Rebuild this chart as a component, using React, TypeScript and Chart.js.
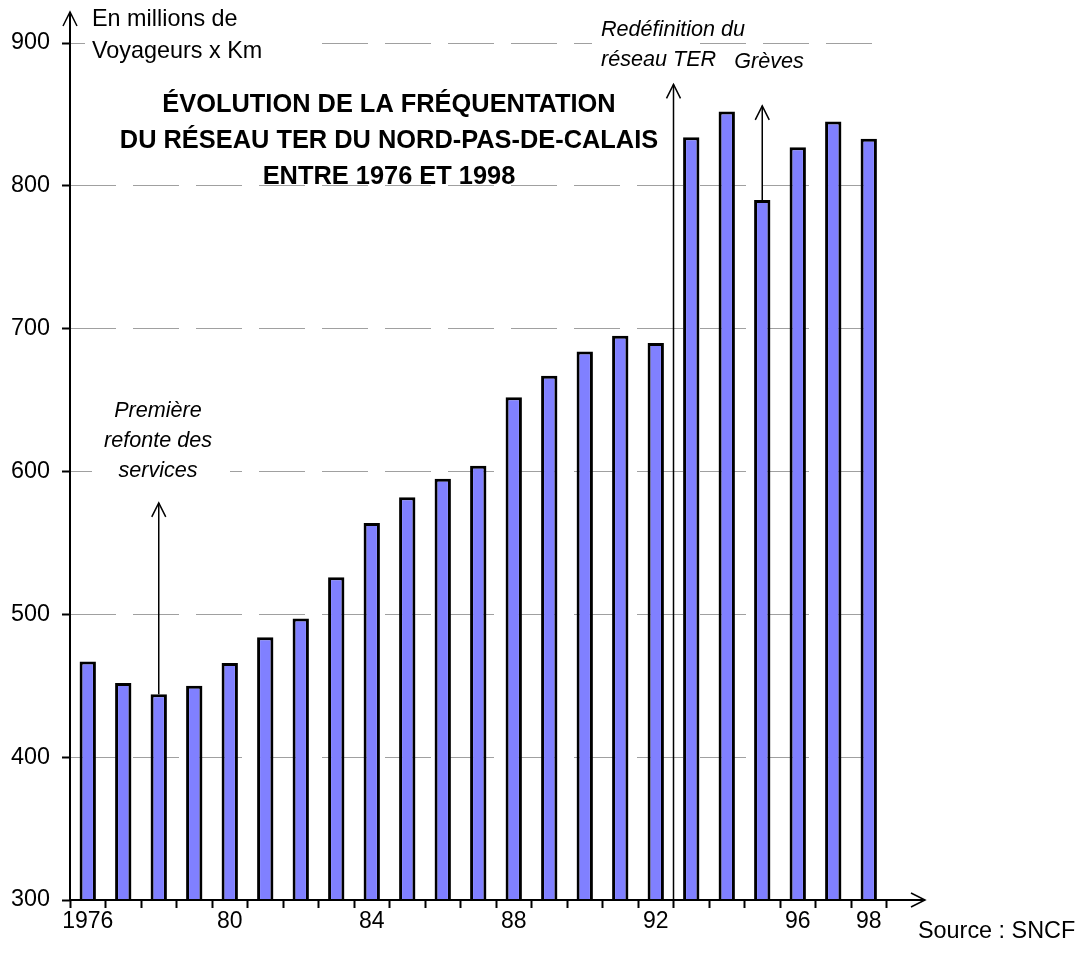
import { useEffect, useRef } from 'react';
import { Chart, registerables } from 'chart.js';

Chart.register(...registerables);

// ---- data ----
const years = ['1976','1977','1978','1979','1980','1981','1982','1983','1984','1985','1986','1987','1988','1989','1990','1991','1992','1993','1994','1995','1996','1997','1998'];
const traffic = [467, 452, 444, 450, 466, 484, 497, 526, 564, 582, 595, 604, 652, 667, 684, 695, 690, 834, 852, 790, 827, 845, 833];
const xTickLabels = ['1976','','','','80','','','','84','','','','88','','','','92','','','','96','','98'];
const yMin = 300;
const yMax = 900;
const yStep = 100;

const titleLines = ['ÉVOLUTION DE LA FRÉQUENTATION', 'DU RÉSEAU TER DU NORD-PAS-DE-CALAIS', 'ENTRE 1976 ET 1998'];
const unitLines = ['En millions de', 'Voyageurs x Km'];
const sourceText = 'Source : SNCF';

// annotation arrows (category index, from value, to value)
const arrowCats = [2, 16.5, 19];
const arrowFrom = [444, 300, 790];
const arrowTo = [578, 871, 856];
const noteFirst = ['Première', 'refonte des', 'services'];
const noteTer = ['Redéfinition du', 'réseau TER'];
const noteStrike = ['Grèves'];

const FONT = '"Liberation Sans", Arial, Helvetica, sans-serif';

function arrowHead(ctx: CanvasRenderingContext2D, x: number, y: number, dir: 'up' | 'right') {
  ctx.beginPath();
  if (dir === 'up') {
    ctx.moveTo(x - 7, y + 14);
    ctx.lineTo(x, y);
    ctx.lineTo(x + 7, y + 14);
  } else {
    ctx.moveTo(x - 14, y - 7);
    ctx.lineTo(x, y);
    ctx.lineTo(x - 14, y + 7);
  }
  ctx.stroke();
}

const decorPlugin = {
  id: 'decor',
  afterDraw(chart: any) {
    const ctx: CanvasRenderingContext2D = chart.ctx;
    const xs = chart.scales.x;
    const ys = chart.scales.y;
    const ca = chart.chartArea;
    ctx.save();

    // white text boxes hiding gridlines
    ctx.fillStyle = '#ffffff';
    const y900 = ys.getPixelForValue(900);
    const y600 = ys.getPixelForValue(600);
    ctx.fillRect(85, y900 - 3, 234, 6);
    ctx.fillRect(592, y900 - 3, 108, 6);
    ctx.fillRect(92, y600 - 3, 138, 6);

    // axes
    ctx.strokeStyle = '#000';
    ctx.lineWidth = 2;
    ctx.beginPath();
    ctx.moveTo(ca.left, ca.bottom);
    ctx.lineTo(ca.left, 12);
    ctx.stroke();
    ctx.beginPath();
    ctx.moveTo(ca.left, ca.bottom);
    ctx.lineTo(925, ca.bottom);
    ctx.stroke();
    ctx.lineWidth = 1.5;
    arrowHead(ctx, ca.left, 12, 'up');
    arrowHead(ctx, 925, ca.bottom, 'right');

    // annotation arrows
    ctx.lineWidth = 1.5;
    for (let i = 0; i < arrowCats.length; i++) {
      const x = xs.getPixelForValue(arrowCats[i]);
      const y0 = ys.getPixelForValue(arrowFrom[i]);
      const y1 = ys.getPixelForValue(arrowTo[i]);
      ctx.beginPath();
      ctx.moveTo(x, y0);
      ctx.lineTo(x, y1);
      ctx.stroke();
      arrowHead(ctx, x, y1, 'up');
    }

    // texts
    ctx.fillStyle = '#000';
    ctx.textBaseline = 'middle';
    ctx.font = `23.4px ${FONT}`;
    ctx.textAlign = 'left';
    ctx.fillText(unitLines[0], 92, 20);
    ctx.fillText(unitLines[1], 92, 52);
    ctx.fillText(sourceText, 918, 932);

    ctx.font = `bold 25.4px ${FONT}`;
    ctx.textAlign = 'center';
    const ty = [105, 141, 177];
    titleLines.forEach((t, i) => ctx.fillText(t, 389, ty[i]));

    ctx.font = `italic 21.6px ${FONT}`;
    ctx.textAlign = 'left';
    ctx.fillText(noteTer[0], 601, 30);
    ctx.fillText(noteTer[1], 601, 60);
    ctx.textAlign = 'center';
    ctx.fillText(noteStrike[0], 769, 62);
    const fy = [411, 441, 471];
    noteFirst.forEach((t, i) => ctx.fillText(t, 158, fy[i]));

    ctx.restore();
  },
};

export default function App() {
  const ref = useRef<HTMLCanvasElement | null>(null);
  useEffect(() => {
    if (!ref.current) return;
    const chart = new Chart(ref.current, {
      type: 'bar',
      data: {
        labels: years,
        datasets: [
          {
            data: traffic,
            backgroundColor: '#8080ff',
            borderColor: '#000000',
            borderWidth: 3,
            borderSkipped: 'start',
            barPercentage: 0.46,
            categoryPercentage: 1,
          },
        ],
      },
      options: {
        responsive: false,
        animation: false,
        events: [],
        layout: { padding: { top: 43, left: 0, right: 194.5, bottom: 13 } },
        plugins: { legend: { display: false }, tooltip: { enabled: false }, title: { display: false } },
        scales: {
          x: {
            type: 'category',
            offset: true,
            border: { display: false },
            grid: {
              display: true,
              offset: true,
              drawOnChartArea: false,
              drawTicks: true,
              tickLength: 8,
              tickColor: '#000',
              tickWidth: 2,
            },
            ticks: {
              autoSkip: false,
              maxRotation: 0,
              minRotation: 0,
              padding: 0,
              color: '#000',
              font: { family: FONT, size: 23 },
              callback: (_v: any, i: number) => xTickLabels[i],
            },
            afterFit: (s: any) => { s.height = 40; },
          },
          y: {
            min: yMin,
            max: yMax,
            border: { display: false, dash: [46, 17] },
            grid: {
              color: '#a0a0a0',
              lineWidth: 1,
              drawTicks: true,
              tickLength: 8,
              tickColor: '#000',
              tickWidth: 2,
              tickBorderDash: [],
            },
            ticks: {
              stepSize: yStep,
              padding: 12,
              color: '#000',
              font: { family: FONT, size: 23.4 },
            },
            afterFit: (s: any) => { s.width = 70; },
          },
        },
      },
      plugins: [decorPlugin],
    });
    return () => chart.destroy();
  }, []);
  return (
    <div style={{ position: 'absolute', left: 0, top: 0, width: 1081, height: 953, background: '#fff' }}>
      <canvas ref={ref} width={1081} height={953} />
    </div>
  );
}
